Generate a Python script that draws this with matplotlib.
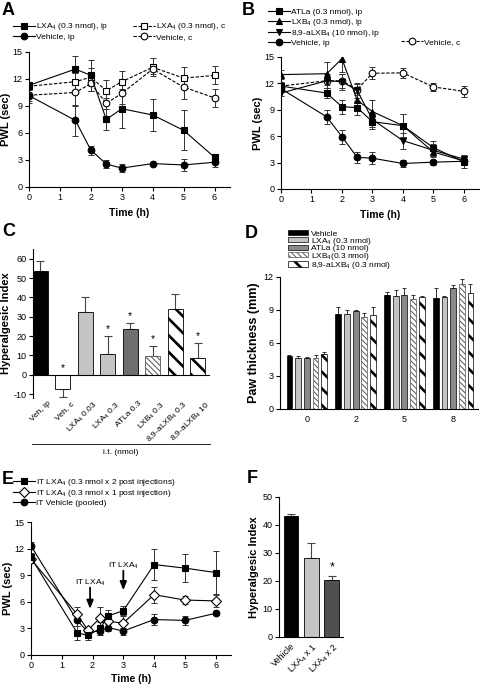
import matplotlib
matplotlib.use('Agg')
import matplotlib.pyplot as plt
from matplotlib.lines import Line2D
from matplotlib.patches import Patch
import numpy as np

plt.rcParams['font.family'] = ['Liberation Sans', 'DejaVu Sans']
plt.rcParams['mathtext.fontset'] = 'custom'
plt.rcParams['mathtext.rm'] = 'Liberation Sans'
plt.rcParams['mathtext.it'] = 'Liberation Sans:italic'
plt.rcParams['mathtext.bf'] = 'Liberation Sans:bold'
plt.rcParams['axes.linewidth'] = 0.8
plt.rcParams['xtick.major.width'] = 0.8
plt.rcParams['ytick.major.width'] = 0.8
plt.rcParams['xtick.major.size'] = 3
plt.rcParams['ytick.major.size'] = 3
plt.rcParams['xtick.labelsize'] = 6.5
plt.rcParams['ytick.labelsize'] = 6.5
plt.rcParams['xtick.major.pad'] = 1.5
plt.rcParams['ytick.major.pad'] = 1.5
plt.rcParams['axes.unicode_minus'] = False

# ---------------- data ----------------
# Panel A
times_A = [0, 1.5, 2, 2.5, 3, 4, 5, 6]
A_lxa4_ip = [11.3, 13.1, 12.4, 7.5, 8.7, 8.0, 6.3, 3.3]
A_lxa4_ip_err = [0.4, 1.4, 1.7, 1.2, 2.2, 1.8, 2.2, 0.4]
A_veh_ip = [10.15, 7.4, 4.1, 2.55, 2.1, 2.6, 2.45, 2.75]
A_veh_ip_err = [0.8, 1.7, 0.5, 0.4, 0.4, 0.2, 0.7, 0.5]
A_lxa4_c = [11.2, 11.7, 12.2, 10.7, 11.7, 13.3, 12.1, 12.4]
A_lxa4_c_err = [0.4, 1.0, 1.0, 1.2, 1.2, 1.0, 1.2, 1.0]
A_veh_c = [10.2, 10.5, 11.5, 9.3, 10.4, 13.1, 11.1, 9.9]
A_veh_c_err = [0.7, 1.5, 0.8, 0.6, 1.2, 0.6, 1.3, 1.0]

# Panel B
times_B = [0, 1.5, 2, 2.5, 3, 4, 5, 6]
B_atla = [11.7, 10.9, 9.35, 9.25, 7.65, 7.2, 4.7, 3.1]
B_atla_err = [0.4, 0.6, 0.8, 0.8, 0.8, 1.3, 0.7, 0.7]
B_lxb4 = [13.0, 13.1, 14.8, 10.1, 8.8, 7.2, 4.2, 3.2]
B_lxb4_err = [0.5, 1.3, 1.5, 1.2, 1.3, 1.3, 0.6, 0.4]
B_aLXB4 = [10.9, 12.3, 12.2, 11.2, 7.9, 5.5, 4.4, 3.4]
B_aLXB4_err = [0.3, 0.8, 0.9, 0.9, 0.8, 0.9, 0.7, 0.5]
B_veh_ip = [11.4, 8.2, 5.95, 3.6, 3.5, 2.9, 3.05, 3.15]
B_veh_ip_err = [0.4, 0.8, 0.8, 0.6, 0.7, 0.4, 0.3, 0.3]
B_veh_c = [11.7, 12.3, 12.3, 11.3, 13.15, 13.2, 11.6, 11.1]
B_veh_c_err = [0.5, 0.8, 0.8, 0.6, 0.7, 0.6, 0.5, 0.6]

# Panel C
C_labels = ['Veh, ip', 'Veh, c', 'LXA$_4$ 0.03', 'LXA$_4$ 0.3', 'ATLa 0.3',
            'LXB$_4$ 0.3', '8,9-aLXB$_4$ 0.3', '8,9-aLXB$_4$ 10']
C_vals = [53.5, -7.5, 32.5, 10.5, 23.5, 9.5, 34.0, 8.5]
C_err = [5.5, 4.0, 7.5, 9.5, 3.5, 5.5, 8.0, 8.0]
C_sig = [False, True, False, True, True, True, False, True]

# Panel D
D_times = ['0', '2', '5', '8']
D_series = ['Vehicle', 'LXA$_4$ (0.3 nmol)', 'ATLa (10 nmol)',
            'LXB$_4$(0.3 nmol)', '8,9-aLXB$_4$ (0.3 nmol)']
D_vals = [[4.8, 8.68, 10.35, 10.13],
          [4.6, 8.68, 10.31, 10.16],
          [4.64, 8.92, 10.34, 11.0],
          [4.64, 8.32, 10.0, 11.4],
          [5.0, 8.53, 10.19, 10.5]]
D_err = [[0.15, 0.6, 0.3, 0.9],
         [0.25, 0.3, 0.54, 0.15],
         [0.1, 0.1, 0.69, 0.24],
         [0.3, 0.42, 0.4, 0.39],
         [0.2, 0.7, 0.05, 0.9]]

# Panel E
times_E = [0, 1.5, 1.85, 2.25, 2.5, 3, 4, 5, 6]
E_x2 = [11.0, 2.5, 2.2, 3.0, 4.4, 5.0, 10.2, 9.8, 9.3]
E_x2_err = [0.5, 0.8, 0.5, 0.7, 0.7, 0.5, 1.7, 1.6, 2.4]
E_x1 = [10.8, 4.6, 2.8, 4.2, 3.8, 3.6, 6.8, 6.2, 6.1]
E_x1_err = [0.4, 0.8, 0.4, 1.2, 0.6, 0.8, 0.9, 0.5, 0.7]
E_veh = [12.3, 3.9, 2.6, 2.7, 3.1, 2.7, 4.0, 3.9, 4.7]
E_veh_err = [0.4, 0.6, 0.3, 0.4, 0.4, 0.4, 0.6, 0.5, 0.2]
E_arrows_t = [1.92, 3.0]

# Panel F
F_labels = ['Vehicle', 'LXA$_4$ x 1', 'LXA$_4$ x 2']
F_vals = [43.3, 28.2, 20.3]
F_err = [0.5, 5.3, 1.5]
F_sig = [False, False, True]

# ---------------- layout helpers ----------------
W, H = 480, 688
fig = plt.figure(figsize=(W / 100, H / 100), dpi=100)


def box(l, t, r, b):
    return [l / W, 1 - b / H, (r - l) / W, (b - t) / H]


def fpt(x, y):
    return (x / W, 1 - y / H)


def style(ax):
    ax.spines['top'].set_visible(False)
    ax.spines['right'].set_visible(False)
    ax.tick_params(direction='out', colors='black')


def letter(x, y, s):
    fig.text(x / W, 1 - y / H, s, fontsize=13, fontweight='bold', va='top', ha='left')


def hatch_lw(artist, lw):
    """Give one patch its own hatch line width."""
    if hasattr(artist, 'set_hatch_linewidth'):
        try:
            artist.set_hatch_linewidth(lw)
        except Exception:
            pass
    orig = artist.draw

    def draw(renderer, _orig=orig, _lw=lw):
        with plt.rc_context({'hatch.linewidth': _lw}):
            _orig(renderer)
    artist.draw = draw


FINE = '\\\\\\\\\\\\'
THICK = '\\\\'


def apply_hatch(p, kind):
    if kind == 'fine':
        p.set_hatch(FINE)
        p.set_edgecolor('#555555')
        hatch_lw(p, 0.7)
    elif kind == 'thick':
        p.set_hatch(THICK)
        p.set_edgecolor('black')
        hatch_lw(p, 1.9)


LW = 0.8
MS = 4.8
CAP = 2.5


def line_series(ax, t, v, e, marker, filled=True, dashed=False, ms=MS, color='black'):
    ax.errorbar(t, v, yerr=e, fmt='none', ecolor='#333333', elinewidth=0.7,
                capsize=CAP, capthick=0.7, zorder=2)
    ln, = ax.plot(t, v, color=color, lw=LW, ls=(0, (3, 1.5)) if dashed else '-',
                  marker=marker, ms=ms, mfc='black' if filled else 'white',
                  mec='black', mew=0.8, zorder=3)
    return ln


def handle(marker, filled=True, dashed=False, ms=MS):
    return Line2D([], [], color='black', lw=LW, ls=(0, (3, 1.5)) if dashed else '-',
                  marker=marker, ms=ms, mfc='black' if filled else 'white',
                  mec='black', mew=0.8)


LEG = dict(frameon=False, fontsize=6, handlelength=2.6, handletextpad=0.2,
           labelspacing=0.03, borderpad=0, borderaxespad=0, numpoints=1,
           loc='upper left', bbox_transform=fig.transFigure)

# ---------------- Panel A ----------------
axA = fig.add_axes(box(29, 52, 230, 187))
style(axA)
line_series(axA, times_A, A_lxa4_c, A_lxa4_c_err, 's', filled=False, dashed=True)
line_series(axA, times_A, A_veh_c, A_veh_c_err, 'o', filled=False, dashed=True)
line_series(axA, times_A, A_veh_ip, A_veh_ip_err, 'o')
line_series(axA, times_A, A_lxa4_ip, A_lxa4_ip_err, 's')
axA.set_xlim(0, 6.5)
axA.set_ylim(0, 15)
axA.set_xticks(range(0, 7))
axA.set_yticks(range(0, 16, 3))
axA.set_xlabel('Time (h)', fontsize=7.5, fontweight='bold', labelpad=4)
axA.set_ylabel('PWL (sec)', fontsize=8, fontweight='bold', labelpad=1)
lA1 = axA.legend([handle('s'), handle('o')],
                 ['LXA$_4$ (0.3 nmol), ip', 'Vehicle, ip'],
                 bbox_to_anchor=fpt(13, 21.5), **LEG)
axA.add_artist(lA1)
axA.legend([handle('s', False, True), handle('o', False, True)],
           ['LXA$_4$ (0.3 nmol), c', 'Vehicle, c'],
           bbox_to_anchor=fpt(133, 21.5), **LEG)
letter(2, 2, 'A')

# ---------------- Panel B ----------------
axB = fig.add_axes(box(281, 57, 479, 189))
style(axB)
line_series(axB, times_B, B_veh_c, B_veh_c_err, 'o', filled=False, dashed=True)
line_series(axB, times_B, B_veh_ip, B_veh_ip_err, 'o')
line_series(axB, times_B, B_aLXB4, B_aLXB4_err, 'v')
line_series(axB, times_B, B_lxb4, B_lxb4_err, '^')
line_series(axB, times_B, B_atla, B_atla_err, 's')
axB.set_xlim(0, 6.5)
axB.set_ylim(0, 15)
axB.set_xticks(range(0, 7))
axB.set_yticks(range(0, 16, 3))
axB.set_xlabel('Time (h)', fontsize=7.5, fontweight='bold', labelpad=4)
axB.set_ylabel('PWL (sec)', fontsize=8, fontweight='bold', labelpad=1)
lB1 = axB.legend([handle('s'), handle('^'), handle('v'), handle('o')],
                 ['ATLa (0.3 nmol), ip', 'LXB$_4$ (0.3 nmol), ip',
                  '8,9-aLXB$_4$ (10 nmol), ip', 'Vehicle, ip'],
                 bbox_to_anchor=fpt(268, 8.5), **LEG)
axB.add_artist(lB1)
axB.legend([handle('o', False, True)], ['Vehicle, c'],
           bbox_to_anchor=fpt(401, 38.5), **LEG)
letter(242, 2, 'B')

# ---------------- Panel C ----------------
axC = fig.add_axes(box(33, 249, 209, 398))
style(axC)
C_face = ['black', 'white', '#c4c4c4', '#c4c4c4', '#6e6e6e', 'white', 'white', 'white']
C_hatch = [None, None, None, None, None, 'fine', 'thick', 'thick']
xC = np.arange(len(C_vals))
for i, (v, e) in enumerate(zip(C_vals, C_err)):
    b = axC.bar(xC[i], v, width=0.66, color=C_face[i], edgecolor='black', lw=0.6, zorder=2)[0]
    apply_hatch(b, C_hatch[i])
    lo, hi = (0, e) if v >= 0 else (e, 0)
    axC.errorbar(xC[i], v, yerr=[[lo], [hi]], fmt='none', ecolor='#444444',
                 elinewidth=0.8, capsize=3, capthick=0.8, zorder=1)
    if C_sig[i]:
        ytop = (v + e) if v >= 0 else 0
        axC.text(xC[i], ytop + 1.0, '*', ha='center', va='bottom', fontsize=7.5)
axC.set_xlim(-0.33, 7.5)
axC.set_ylim(-12, 65)
axC.set_yticks(range(-10, 61, 10))
axC.spines['bottom'].set_position(('data', 0))
axC.set_xticks([])
axC.set_ylabel('Hyperalgesic Index', fontsize=8, fontweight='bold', labelpad=2)
for i, lab in enumerate(C_labels):
    axC.text(xC[i] + 0.33, -13.0, lab, rotation=45, ha='right', va='top',
             rotation_mode='anchor', fontsize=6)
fig.add_artist(Line2D([32 / W, 210 / W], [1 - 444 / H] * 2, color='black', lw=0.6,
                      transform=fig.transFigure))
fig.text(121 / W, 1 - 452 / H, 'i.t. (nmol)', ha='center', va='center', fontsize=6)
letter(2, 223, 'C')

# ---------------- Panel D ----------------
axD = fig.add_axes(box(280, 277, 478, 409))
style(axD)
D_face = ['black', '#c4c4c4', '#8a8a8a', 'white', 'white']
D_kind = [None, None, None, 'fine', 'thick']
xD = np.arange(len(D_times))
step, bw = 0.178, 0.12
handlesD = []
for k in range(len(D_series)):
    pos = xD + (k - 2) * step
    bars = axD.bar(pos, D_vals[k], width=bw, color=D_face[k], edgecolor='black', lw=0.5, zorder=2)
    for bb in bars:
        apply_hatch(bb, D_kind[k])
    hk = Patch(facecolor=D_face[k], edgecolor='black', lw=0.5)
    if D_kind[k] == 'fine':
        hk.set_hatch(FINE)
        hk.set_edgecolor('#555555')
    elif D_kind[k] == 'thick':
        hk.set_hatch(THICK)
    handlesD.append(hk)
    axD.errorbar(pos, D_vals[k], yerr=[np.zeros(len(D_times)), D_err[k]], fmt='none',
                 ecolor='#333333', elinewidth=0.7, capsize=1.5, capthick=0.7, zorder=1)
axD.set_xlim(-0.55, 3.51)
axD.set_ylim(0, 12)
axD.set_xticks(xD)
axD.set_xticklabels(D_times)
axD.tick_params(axis='x', length=0, pad=4)
axD.set_yticks(range(0, 13, 3))
axD.set_ylabel('Paw thickness (mm)', fontsize=9, fontweight='bold', labelpad=3)
legD = dict(LEG)
legD.update(handlelength=2.4, handleheight=0.6, labelspacing=-0.22, handletextpad=0.4)
lD = axD.legend(handlesD, D_series, bbox_to_anchor=fpt(288, 230), **legD)
lh = getattr(lD, 'legend_handles', None) or getattr(lD, 'legendHandles', [])
for k, p in enumerate(lh):
    if D_kind[k] is not None:
        apply_hatch(p, D_kind[k])
letter(245, 225, 'D')

# ---------------- Panel E ----------------
axE = fig.add_axes(box(31, 522, 231, 655))
style(axE)
line_series(axE, times_E, E_veh, E_veh_err, 'o')
line_series(axE, times_E, E_x1, E_x1_err, 'D', filled=False, ms=4.6)
line_series(axE, times_E, E_x2, E_x2_err, 's')
axE.set_xlim(0, 6.5)
axE.set_ylim(0, 15)
axE.set_xticks(range(0, 7))
axE.set_yticks(range(0, 16, 3))
axE.set_xlabel('Time (h)', fontsize=7.5, fontweight='bold', labelpad=3)
axE.set_ylabel('PWL (sec)', fontsize=8, fontweight='bold', labelpad=1)
axE.legend([handle('s'), handle('D', False, ms=4.6), handle('o')],
           ['IT LXA$_4$ (0.3 nmol x 2 post injections)',
            'IT LXA$_4$ (0.3 nmol x 1 post injection)', 'IT Vehicle (pooled)'],
           bbox_to_anchor=fpt(13, 477), **LEG)
arrow_y = [(8.1, 7.6, 5.2), (10.1, 9.5, 7.3)]
for t, (ty, y0, y1) in zip(E_arrows_t, arrow_y):
    axE.text(t, ty, 'IT LXA$_4$', ha='center', va='center', fontsize=6)
    axE.annotate('', xy=(t, y1), xytext=(t, y0),
                 arrowprops=dict(arrowstyle='-|>,head_length=0.5,head_width=0.2',
                                 color='black', lw=1.3, shrinkA=0, shrinkB=0))
letter(2, 471, 'E')

# ---------------- Panel F ----------------
axF = fig.add_axes(box(279, 497, 343, 637))
style(axF)
F_face = ['black', '#c4c4c4', '#505050']
xF = np.arange(len(F_vals))
axF.bar(xF, F_vals, width=0.73, color=F_face, edgecolor='black', lw=0.6, zorder=2)
axF.errorbar(xF, F_vals, yerr=[np.zeros(3), F_err], fmt='none', ecolor='#444444',
             elinewidth=0.8, capsize=3, capthick=0.8, zorder=1)
for i in range(3):
    if F_sig[i]:
        axF.text(xF[i], F_vals[i] + F_err[i] + 1.0, '*', ha='center', va='bottom', fontsize=9)
axF.set_xlim(-0.585, 2.54)
axF.set_ylim(0, 50)
axF.set_yticks(range(0, 51, 10))
axF.set_xticks(xF)
axF.set_xticklabels(F_labels, rotation=45, ha='right', rotation_mode='anchor', fontsize=6.5)
axF.tick_params(axis='x', length=0, pad=3)
axF.set_ylabel('Hyperalgesic Index', fontsize=8, fontweight='bold', labelpad=3)
letter(247, 470, 'F')

fig.savefig('out.png', dpi=100)
